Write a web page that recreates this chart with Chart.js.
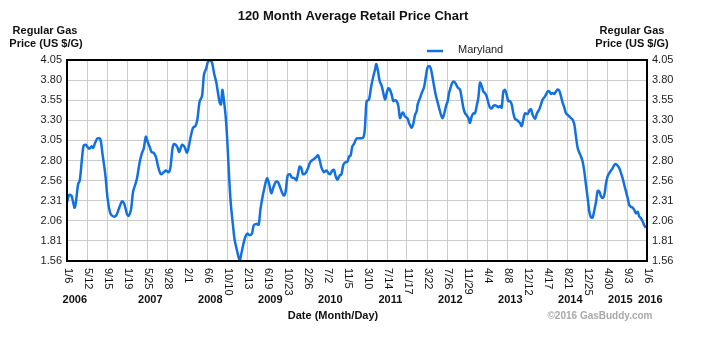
<!DOCTYPE html>
<html>
<head>
<meta charset="utf-8">
<title>120 Month Average Retail Price Chart</title>
<script src="https://cdn.jsdelivr.net/npm/chart.js@4/dist/chart.umd.min.js"></script>
<style>
  html, body { margin: 0; padding: 0; background: #fff; }
  canvas { display: block; }
</style>
</head>
<body>
<canvas id="gasChart" width="702" height="342"></canvas>
<script>
// Maryland regular gas, weekly average price ($/gal), weeks counted from 1/6/2006
const seriesName = "Maryland";

const weeks = [
  0, 2, 4, 7, 10, 11.5, 13.5, 15, 17, 18, 20, 22, 23.5, 25.5, 27.5, 30, 32, 34.5, 36.5, 39,
  42, 44.5, 46.5, 49.5, 51.5, 54, 55.5, 57.5, 59.5, 61.5, 63, 65.5, 67.5, 69, 71, 72.5, 74.5, 76, 78, 80,
  82, 84.5, 87, 89, 91.5, 93, 95, 96.5, 99, 101, 103.5, 105.9, 108, 109.8, 111.3, 113.4, 115.5, 117.3, 119.4, 121.5,
  123.3, 125.4, 126.9, 129, 130.5, 132.3, 134.4, 135.9, 137.4, 138.6, 139.8, 141.3, 142.8, 144.3, 145.8, 147.3, 149.4, 150.9, 153, 155.4,
  156.9, 158.4, 160.5, 162.3, 164.4, 166.5, 168, 170.4, 172.5, 174, 175.8, 177.9, 180, 181.8, 183.9, 185.7, 187.8, 189.6, 191.4, 193.5,
  195.3, 196.8, 198.6, 200.4, 202.8, 204.9, 206.5, 209.4, 210.9, 212.4, 214.8, 216.9, 218.7, 220.8, 222.9, 224.4, 225.9, 227.4, 229.2, 231.3,
  233.4, 235.2, 236.7, 238.8, 240.3, 241.8, 243.3, 245.4, 246.9, 248.7, 250.2, 252.3, 253.8, 255.3, 256.8, 258.3, 260.4, 262.8, 264.9, 266.7,
  267.9, 268.8, 269.7, 271.8, 273.6, 275.4, 277.2, 278.4, 279.9, 281.4, 283.2, 284.4, 286.2, 287.7, 289.2, 290.7, 292.2, 293.7, 295.2, 296.7,
  298.2, 299.7, 301.2, 302.4, 304.2, 306.3, 308.4, 310.2, 311.7, 313.2, 314.7, 315.6, 317.7, 319.2, 321.3, 322.8, 324.3, 325.8, 327.3, 328.8,
  330.3, 331.8, 333.3, 334.8, 336.6, 338.1, 339.6, 341.1, 342.6, 343.8, 345.3, 346.8, 348.6, 350.1, 351.6, 353.7, 355.2, 356.7, 358.2, 359.7,
  361.2, 362.7, 364.2, 365.7, 367.2, 368.7, 370.2, 371.7, 373.2, 374.7, 376.2, 377.7, 379.2, 380.7, 382.2, 383.7, 385.2, 386.7, 388.2, 389.7,
  391.2, 392.7, 394.2, 395.7, 397.2, 398.7, 400.2, 401.7, 403.2, 404.7, 406.2, 407.7, 409.2, 410.7, 412.2, 414.6, 416.4, 417.6, 419.1, 421.2,
  423, 425.1, 426.6, 428.1, 430.2, 432.6, 434.1, 435.6, 437.1, 438.6, 440.1, 441.6, 443.1, 444.6, 446.1, 447.6, 449.1, 450.6, 452.1, 453.6,
  455.1, 456.6, 458.1, 459.6, 461.1, 462.6, 464.1, 465.6, 467.1, 468.6, 470.1, 471.6, 473.1, 474.6, 476.1, 477.6, 479.1, 480.6, 482.1, 483.6,
  485.1, 486.6, 488.1, 489.6, 491.1, 492.6, 494.1, 495.6, 497.1, 498.6, 500.1, 501.6, 503.1, 504.6, 506.1, 507.6, 509.1, 510.6, 512.1, 513.6,
  515.1, 516.6, 518.1, 519.6, 521.1
];

const prices = [
  2.29, 2.38, 2.37, 2.22, 2.51, 2.56, 2.83, 2.99, 3.00, 2.98, 2.95, 2.98, 2.96, 3.03, 3.08, 3.07, 2.88, 2.63, 2.34, 2.15,
  2.11, 2.13, 2.20, 2.30, 2.27, 2.14, 2.12, 2.19, 2.42, 2.51, 2.585, 2.79, 2.90, 2.95, 3.10, 3.04, 2.97, 2.91, 2.90, 2.85,
  2.73, 2.635, 2.66, 2.68, 2.66, 2.71, 2.96, 3.01, 2.98, 2.91, 3.00, 2.97, 2.90, 2.99, 3.10, 3.21, 3.23, 3.31, 3.54, 3.60,
  3.87, 3.95, 4.03, 4.04, 4.02, 3.89, 3.77, 3.64, 3.52, 3.50, 3.68, 3.54, 3.35, 3.04, 2.63, 2.29, 2.00, 1.82, 1.69, 1.57,
  1.65, 1.75, 1.86, 1.90, 1.88, 1.90, 2.00, 2.02, 2.01, 2.19, 2.34, 2.48, 2.585, 2.52, 2.40, 2.47, 2.54, 2.54, 2.49, 2.41,
  2.37, 2.42, 2.62, 2.635, 2.59, 2.585, 2.56, 2.73, 2.71, 2.635, 2.65, 2.71, 2.78, 2.81, 2.83, 2.85, 2.87, 2.81, 2.71, 2.66,
  2.68, 2.65, 2.635, 2.68, 2.69, 2.61, 2.565, 2.62, 2.63, 2.75, 2.78, 2.79, 2.85, 2.87, 2.98, 3.01, 3.075, 3.08, 3.08, 3.09,
  3.17, 3.37, 3.54, 3.56, 3.71, 3.83, 3.93, 4.00, 3.91, 3.79, 3.73, 3.66, 3.56, 3.64, 3.70, 3.68, 3.62, 3.54, 3.55, 3.54,
  3.48, 3.33, 3.38, 3.40, 3.35, 3.33, 3.25, 3.21, 3.26, 3.37, 3.415, 3.50, 3.58, 3.64, 3.71, 3.83, 3.95, 3.975, 3.95, 3.85,
  3.73, 3.62, 3.54, 3.46, 3.37, 3.33, 3.39, 3.48, 3.54, 3.64, 3.71, 3.77, 3.78, 3.75, 3.71, 3.685, 3.58, 3.46, 3.39, 3.365,
  3.33, 3.27, 3.35, 3.39, 3.39, 3.48, 3.58, 3.77, 3.73, 3.66, 3.64, 3.60, 3.52, 3.46, 3.45, 3.48, 3.49, 3.48, 3.465, 3.48,
  3.46, 3.66, 3.68, 3.62, 3.54, 3.54, 3.50, 3.39, 3.32, 3.31, 3.29, 3.27, 3.23, 3.31, 3.39, 3.38, 3.43, 3.44, 3.37, 3.32,
  3.39, 3.44, 3.50, 3.56, 3.60, 3.66, 3.66, 3.63, 3.64, 3.63, 3.66, 3.685, 3.67, 3.60, 3.52, 3.46, 3.39, 3.37, 3.35, 3.33,
  3.31, 3.25, 3.10, 2.96, 2.90, 2.855, 2.79, 2.67, 2.50, 2.34, 2.17, 2.10, 2.10, 2.19, 2.29, 2.43, 2.42, 2.36, 2.34, 2.38,
  2.52, 2.61, 2.65, 2.68, 2.71, 2.75, 2.76, 2.74, 2.71, 2.65, 2.585, 2.50, 2.42, 2.34, 2.25, 2.23, 2.22, 2.19, 2.15, 2.17,
  2.11, 2.09, 2.05, 2.00, 1.97
];

const xTickLabels = ["1/6", "5/12", "9/15", "1/19", "5/25", "9/28", "2/1", "6/6", "10/10", "2/13",
  "6/19", "10/23", "2/26", "7/2", "11/5", "3/10", "7/14", "11/17", "3/22", "7/26",
  "11/29", "4/4", "8/8", "12/12", "4/17", "8/21", "12/25", "4/30", "9/3", "1/6"];
const weeksPerTick = 18;

const yearLabels = ["2006", "2007", "2008", "2009", "2010", "2011", "2012", "2013", "2014", "2015", "2016"];
const yearWeeks = [7, 75, 129, 183, 237, 291, 345, 399, 453, 498, 525];

const yTickLabels = ["1.56", "1.81", "2.06", "2.31", "2.56", "2.80", "3.05", "3.30", "3.55", "3.80", "4.05"];
const yMin = 1.56, yMax = 4.05;

const lineColor = "#1271e2";
const fontFamily = "'Liberation Sans', Arial, sans-serif";
Chart.defaults.font.family = fontFamily;

function priceAxis(position) {
  return {
    position: position,
    display: true,
    min: yMin,
    max: yMax,
    afterBuildTicks: s => {
      const step = (yMax - yMin) / (yTickLabels.length - 1);
      s.ticks = yTickLabels.map((t, i) => ({ value: yMin + i * step }));
    },
    afterFit: s => { s.width = position === "left" ? 67 : 55; },
    ticks: {
      padding: 5,
      color: "#1c1c1c",
      font: { size: 11 },
      callback: (v, i) => yTickLabels[i]
    },
    grid: { color: "#cccccc", drawTicks: false, drawOnChartArea: position === "left" },
    border: { display: false }
  };
}

const decorations = {
  id: "decorations",
  afterDraw(chart) {
    const ctx = chart.ctx;
    const area = chart.chartArea;
    const xs = chart.scales.x;
    ctx.save();

    // plot frame
    ctx.strokeStyle = "#000";
    ctx.lineWidth = 2;
    ctx.strokeRect(area.left, area.top, area.right - area.left, area.bottom - area.top);

    // rotated date labels
    ctx.fillStyle = "#111";
    ctx.font = "11px " + fontFamily;
    ctx.textAlign = "left";
    ctx.textBaseline = "middle";
    xTickLabels.forEach((lab, i) => {
      const x = xs.getPixelForValue(i * weeksPerTick);
      ctx.save();
      ctx.translate(x + 1, area.bottom + 7);
      ctx.rotate(Math.PI / 2);
      ctx.fillText(lab, 0, 0);
      ctx.restore();
    });

    // years
    ctx.font = "bold 11px " + fontFamily;
    ctx.textAlign = "center";
    yearLabels.forEach((y, i) => {
      ctx.fillText(y, xs.getPixelForValue(yearWeeks[i]), 300);
    });

    ctx.fillText("Date (Month/Day)", 333, 316);

    // axis titles
    ctx.fillText("Regular Gas", 45, 31);
    ctx.fillText("Price (US $/G)", 46, 44);
    ctx.fillText("Regular Gas", 632, 31);
    ctx.fillText("Price (US $/G)", 632, 44);

    // title
    ctx.font = "bold 13px " + fontFamily;
    ctx.fillText("120 Month Average Retail Price Chart", 353, 16);

    // legend
    ctx.strokeStyle = lineColor;
    ctx.lineWidth = 2.5;
    ctx.beginPath();
    ctx.moveTo(427, 51);
    ctx.lineTo(443, 51);
    ctx.stroke();
    ctx.font = "11px " + fontFamily;
    ctx.textAlign = "left";
    ctx.fillStyle = "#222";
    ctx.fillText(seriesName, 458, 50);

    // watermark
    ctx.font = "bold 10px " + fontFamily;
    ctx.textAlign = "center";
    ctx.fillStyle = "#a9a9a9";
    ctx.fillText("\u00a92016 GasBuddy.com", 600, 316);

    ctx.restore();
  }
};

new Chart(document.getElementById("gasChart"), {
  type: "line",
  data: {
    datasets: [{
      label: seriesName,
      data: weeks.map((w, i) => ({ x: w, y: prices[i] })),
      borderColor: lineColor,
      borderWidth: 2.5,
      pointRadius: 0,
      tension: 0.3,
      fill: false
    }]
  },
  options: {
    responsive: false,
    animation: false,
    devicePixelRatio: 1,
    layout: { padding: { top: 60, bottom: 81, left: 0, right: 0 } },
    plugins: { legend: { display: false }, tooltip: { enabled: false } },
    scales: {
      x: {
        type: "linear",
        min: 0,
        max: (xTickLabels.length - 1) * weeksPerTick,
        afterBuildTicks: s => {
          s.ticks = xTickLabels.map((t, i) => ({ value: i * weeksPerTick }));
        },
        afterFit: s => { s.height = 0; },
        ticks: { display: false },
        grid: { color: "#cccccc", drawTicks: false },
        border: { display: false }
      },
      y: priceAxis("left"),
      y2: priceAxis("right")
    }
  },
  plugins: [decorations]
});
</script>
</body>
</html>
